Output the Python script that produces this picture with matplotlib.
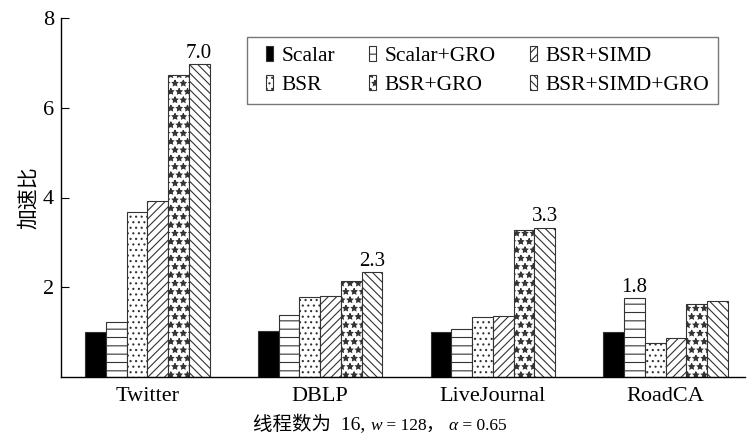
import matplotlib

matplotlib.use("Agg")
import matplotlib.pyplot as plt
import matplotlib.patches as mpatches
from matplotlib.legend_handler import HandlerPatch
import numpy as np

plt.rcParams["font.family"] = ["Liberation Serif", "Noto Sans CJK SC"]
plt.rcParams["hatch.linewidth"] = 0.8

DATASETS = ["Twitter", "DBLP", "LiveJournal", "RoadCA"]
SERIES = ["Scalar", "Scalar+GRO", "BSR", "BSR+SIMD", "BSR+GRO", "BSR+SIMD+GRO"]
SPEEDUP = {
    "Scalar": [1.0, 1.02, 1.0, 1.0],
    "Scalar+GRO": [1.23, 1.38, 1.08, 1.76],
    "BSR": [3.68, 1.78, 1.33, 0.76],
    "BSR+SIMD": [3.93, 1.81, 1.37, 0.88],
    "BSR+GRO": [6.73, 2.13, 3.27, 1.62],
    "BSR+SIMD+GRO": [6.97, 2.33, 3.33, 1.69],
}
Y_TICKS = [2, 4, 6, 8]
CAPTION = [
    ("线程数为  16, ", "normal", 14),
    ("w", "italic", 12.5),
    (" = 128", "normal", 12.5),
    ("， ", "normal", 13),
    ("α", "italic", 12.5),
    (" = 0.65", "normal", 12.5),
]

STYLE = {
    "Scalar": dict(facecolor="black", hatch=None),
    "Scalar+GRO": dict(facecolor="white", hatch="--"),
    "BSR": dict(facecolor="white", hatch="..."),
    "BSR+SIMD": dict(facecolor="white", hatch="////"),
    "BSR+GRO": dict(facecolor="white", hatch="**"),
    "BSR+SIMD+GRO": dict(facecolor="white", hatch="\\\\\\\\"),
}


def _narrow_handle(legend, orig_handle, xdescent, ydescent, width, height, fontsize):
    # slim rectangle sitting at the right of the handle box
    return mpatches.Rectangle((-xdescent + width - 6.5, -ydescent), 5.0, height)


fig = plt.figure(figsize=(7.47, 4.41), dpi=100)
ax = fig.add_axes([61 / 747, 64 / 441, 684 / 747, 359 / 441])

x = np.arange(len(DATASETS))
width = 0.12
bars = {}
for i, name in enumerate(SERIES):
    offs = (i - (len(SERIES) - 1) / 2) * width
    bars[name] = ax.bar(
        x + offs,
        SPEEDUP[name],
        width,
        label=name,
        edgecolor="#333333",
        linewidth=0.8,
        **STYLE[name],
    )

# label the tallest bar of each group
values = np.array([SPEEDUP[s] for s in SERIES])
for j in range(len(DATASETS)):
    k = int(np.argmax(values[:, j]))
    offs = (k - (len(SERIES) - 1) / 2) * width
    ax.annotate(
        f"{values[k, j]:.1f}",
        (x[j] + offs, values[k, j]),
        xytext=(0, 1),
        textcoords="offset points",
        ha="center",
        va="bottom",
        fontsize=15,
    )

ax.set_xlim(-0.5, 3.46)
ax.set_ylim(0, 8)
ax.set_xticks(x)
ax.set_xticklabels(DATASETS, fontsize=16)
ax.set_yticks(Y_TICKS)
ax.set_yticklabels([str(t) for t in Y_TICKS], fontsize=16)
ax.tick_params(axis="x", length=0, pad=7)
ax.tick_params(axis="y", direction="in", length=6, width=0.8, pad=5)
for side in ("top", "right"):
    ax.spines[side].set_visible(False)
for side in ("left", "bottom"):
    ax.spines[side].set_linewidth(1.0)

ax.set_ylabel("加速比", fontsize=15, labelpad=3)

order = ["Scalar", "BSR", "Scalar+GRO", "BSR+GRO", "BSR+SIMD", "BSR+SIMD+GRO"]
leg = ax.legend(
    [bars[n].patches[0] for n in order],
    order,
    handler_map={mpatches.Rectangle: HandlerPatch(patch_func=_narrow_handle)},
    ncol=3,
    loc="upper left",
    bbox_to_anchor=(0.272, 0.947),
    fontsize=15.5,
    frameon=True,
    fancybox=False,
    edgecolor="#555555",
    handlelength=0.9,
    handleheight=0.7,
    handletextpad=0.3,
    columnspacing=1.1,
    labelspacing=0.45,
    borderpad=0.4,
    borderaxespad=0,
)
leg.get_frame().set_linewidth(1.0)

# caption: pieces laid out one after another on a shared baseline
renderer = fig.canvas.get_renderer()
cx = 253 / 747
cy = 1 - 430 / 441
for text, style, size in CAPTION:
    t = fig.text(cx, cy, text, fontsize=size, style=style, va="baseline", ha="left")
    bb = t.get_window_extent(renderer=renderer)
    cx += bb.width / fig.bbox.width

fig.savefig("out.png", dpi=100)
